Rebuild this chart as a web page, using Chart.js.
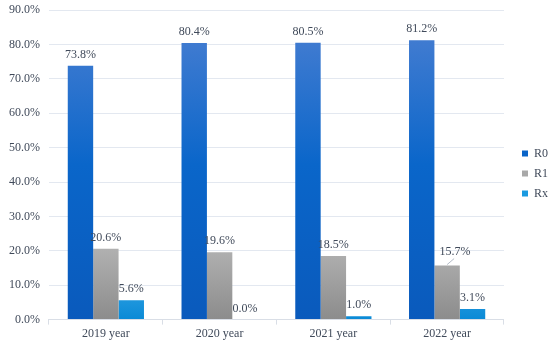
<!DOCTYPE html>
<html>
<head>
<meta charset="utf-8">
<script src="https://cdn.jsdelivr.net/npm/chart.js@4.4.1/dist/chart.umd.min.js"></script>
<style>
  html, body { margin: 0; padding: 0; background: #fff; }
  #wrap { width: 550px; height: 346px; }
</style>
</head>
<body>
<div id="wrap"><canvas id="chart"></canvas></div>
<script>
// ---------------------------
// DATA
// ---------------------------
const years = ['2019 year', '2020 year', '2021 year', '2022 year'];
const r0 = [73.8, 80.4, 80.5, 81.2];
const r1 = [20.6, 19.6, 18.5, 15.7];
const rx = [5.6, 0.0, 1.0, 3.1];

const textColor = '#404a5a';
const serif = "'Liberation Serif', 'Times New Roman', serif";

// vertical gradient over the plot area
function grad(stops) {
  return (ctx) => {
    const area = ctx.chart.chartArea;
    if (!area) return stops[stops.length - 1][1];
    const g = ctx.chart.ctx.createLinearGradient(0, area.top, 0, area.bottom);
    stops.forEach(s => g.addColorStop(s[0], s[1]));
    return g;
  };
}

// labels above bars
const valueLabels = {
  id: 'valueLabels',
  afterDatasetsDraw(chart) {
    const c = chart.ctx;
    c.save();
    c.font = '12px ' + serif;
    c.fillStyle = textColor;
    c.textAlign = 'center';
    c.textBaseline = 'bottom';
    chart.data.datasets.forEach((ds, i) => {
      chart.getDatasetMeta(i).data.forEach((bar, j) => {
        const txt = ds.data[j].toFixed(1) + '%';
        // the 2022 R1 label was pulled aside with a leader line
        if (i === 1 && j === 3) {
          c.strokeStyle = '#a0aab8';
          c.lineWidth = 0.8;
          c.beginPath();
          c.moveTo(bar.x, bar.y - 1);
          c.lineTo(bar.x + 7, bar.y - 7);
          c.stroke();
          c.fillText(txt, bar.x + 8, bar.y - 8);
        } else {
          c.fillText(txt, bar.x, bar.y - 5);
        }
      });
    });
    c.restore();
  }
};

// push legend a bit further right of the plot
const legendShift = {
  id: 'legendShift',
  beforeDraw(chart) {
    const lg = chart.legend;
    if (lg && !lg._shifted) {
      const orig = lg.draw.bind(lg);
      lg.draw = function () {
        chart.ctx.save();
        chart.ctx.translate(10, -3);
        orig();
        chart.ctx.restore();
      };
      lg._shifted = true;
    }
  }
};

new Chart(document.getElementById('chart'), {
  type: 'bar',
  data: {
    labels: years,
    datasets: [
      {
        label: 'R0', data: r0,
        backgroundColor: grad([[0, '#4d80d2'], [0.5, '#0a66ca'], [1, '#0a5abc']])
      },
      {
        label: 'R1', data: r1,
        backgroundColor: grad([[0, '#c8c8c8'], [0.75, '#b4b4b4'], [1, '#8c8c8c']])
      },
      {
        label: 'Rx', data: rx,
        backgroundColor: grad([[0, '#5ab8ee'], [0.85, '#3aa6e6'], [1, '#0a8ad6']])
      }
    ]
  },
  options: {
    responsive: true,
    maintainAspectRatio: false,
    animation: false,
    categoryPercentage: 0.67,
    barPercentage: 1.0,
    layout: { padding: { left: 0, right: 2, top: 10, bottom: 3 } },
    plugins: {
      tooltip: { enabled: false },
      legend: {
        position: 'right',
        labels: {
          boxWidth: 6, boxHeight: 6, padding: 8,
          color: textColor,
          font: { family: serif, size: 12 },
          generateLabels(chart) {
            const cols = ['#0a64c8', '#a8a8a8', '#1a9ae0'];
            return chart.data.datasets.map((ds, i) => ({
              text: ds.label, fillStyle: cols[i], strokeStyle: cols[i],
              lineWidth: 0, fontColor: textColor, datasetIndex: i
            }));
          }
        }
      }
    },
    scales: {
      x: {
        grid: { drawOnChartArea: false, color: '#d9dee6', tickLength: 5 },
        border: { color: '#d9dee6' },
        ticks: { color: textColor, font: { family: serif, size: 12 }, padding: 2 }
      },
      y: {
        min: 0, max: 90,
        grid: { color: '#e3e8f0', drawTicks: false },
        border: { display: false },
        afterFit(scale) { scale.paddingTop = 0; },
        ticks: {
          stepSize: 10, padding: 9, color: textColor,
          font: { family: serif, size: 12 },
          callback: v => v.toFixed(1) + '%'
        }
      }
    }
  },
  plugins: [valueLabels, legendShift]
});
</script>
</body>
</html>
